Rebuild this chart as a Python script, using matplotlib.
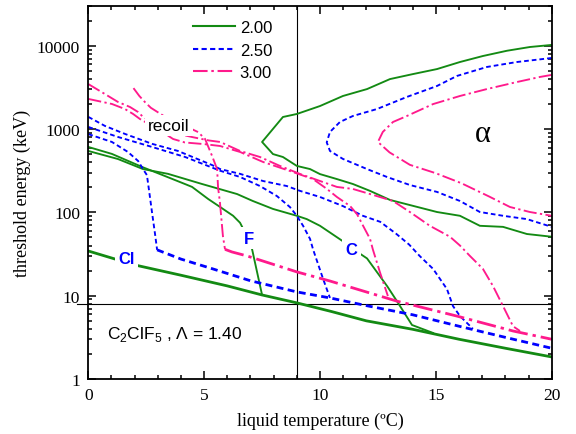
import matplotlib
matplotlib.use("Agg")
import matplotlib.pyplot as plt
from matplotlib.ticker import FixedLocator, NullFormatter, MultipleLocator
from matplotlib.lines import Line2D

# ---------------- data ----------------
legend_labels = ["2.00", "2.50", "3.00"]
x_ticks = [0, 5, 10, 15, 20]
x_tick_labels = ["0", "5", "10", "15", "20"]
y_ticks = [1, 10, 100, 1000, 10000]
y_tick_labels = ["1", "10", "100", "1000", "10000"]
ref_T = 9.0
ref_E = 8.0

# Lambda = 2.00 (green)
g_bottom_T = [0, 2, 4, 6, 7.5, 9, 10.5, 12, 14, 16, 18, 20]
g_bottom_E = [34.4, 23.4, 17.6, 13.1, 10.2, 8.2, 6.45, 4.99, 3.95, 3.0, 2.34, 1.84]
g_F_T = [0, 1.02, 2.32, 3.31, 4.17, 4.48, 5.17, 5.69, 6.25, 6.55, 6.64, 7.07, 7.5]
g_F_E = [610, 503, 351, 273, 219, 202, 145, 116, 91, 75, 67, 36, 10.2]
g_C_T = [0, 1.28, 2.36, 3.44, 4.91, 6.42, 7.1, 7.97, 9.0, 9.43, 10.0, 10.99, 11.72,
         12.03, 12.9, 13.32, 13.97, 14.88]
g_C_E = [546, 437, 331, 290, 219, 166, 137, 110, 91, 83, 69, 45, 32, 28, 13, 8.6, 4.45, 3.57]
g_alpha_T = [20, 19.06, 18.07, 17.03, 16.04, 15.05, 14.01, 13.02, 12.03, 10.99, 10.0, 9.0,
             8.4, 7.5, 7.97, 8.4, 9.0, 9.57, 10.0, 10.73, 11.42, 12.16, 13.02, 15.05, 16.04,
             16.9, 17.9, 18.93, 20]
g_alpha_E = [10230, 9660, 8710, 7530, 6380, 5250, 4570, 3980, 3020, 2495, 1890, 1517, 1396,
             700, 501, 462, 361, 331, 288, 251, 219, 181, 141, 101, 91, 69, 67, 55, 51]

# Lambda = 2.50 (blue)
b_bottom_T = [2.97, 4, 5.39, 7, 9, 10.43, 12, 14, 16, 18, 20]
b_bottom_E = [35.5, 27.5, 20.9, 15.1, 11.1, 9.4, 7.6, 5.9, 4.3, 3.16, 2.34]
b_Cl_T = [0, 1.02, 1.71, 2.15, 2.36, 2.53, 2.62, 2.75, 2.88, 2.97]
b_Cl_E = [870, 700, 531, 414, 331, 280, 185, 100, 55, 35.5]
b_F_T = [0, 1.28, 2.75, 4.18, 5.69, 6.55, 7.41, 8.14, 8.7, 9.0, 9.27, 9.57, 9.7, 10.13, 10.43]
b_F_E = [1060, 804, 610, 462, 316, 266, 207, 157, 116, 91, 69, 48, 36, 16, 9.4]
b_C_T = [0, 0.72, 1.58, 2.75, 3.87, 5.34, 5.69, 6.55, 7.54, 8.57, 9.14, 10.0, 10.99, 11.85,
         12.6, 13.3, 13.85, 14.3, 14.88, 15.48, 15.74, 16.04, 16.6]
b_C_E = [1400, 1090, 875, 665, 546, 370, 331, 290, 238, 207, 181, 153, 119, 91,
         77, 55, 41, 30, 21, 12, 7.5, 5.7, 4.0]
b_alpha_T = [20, 18.5, 17.2, 15.91, 15.05, 13.75, 12.46, 11.42, 10.86, 10.43, 10.29, 10.43,
             10.99, 12.03, 12.89, 13.88, 15.05, 16.04, 16.9, 17.9, 18.93, 20]
b_alpha_E = [7130, 6380, 5560, 4340, 3290, 2430, 1740, 1435, 1216, 923, 692, 546,
             438, 331, 266, 213, 176, 137, 101, 91, 83, 67]

# Lambda = 3.00 (pink)
p_bottom_T = [5.9, 6.2, 6.85, 9.0, 10.43, 13.32, 15.9, 18.33, 20]
p_bottom_E = [36, 33.5, 30, 19.3, 15, 8.6, 5.7, 3.77, 3.0]
p_Cl_T = [1.95, 2.2, 2.45, 2.7, 3.5, 4.3, 4.74, 5.04, 5.35, 5.56, 5.6, 5.68, 5.81, 5.9]
p_Cl_E = [3100, 2500, 2100, 1800, 1300, 1050, 920, 760, 470, 330, 200, 133, 52, 36]
p_F_T = [0, 1.02, 1.58, 1.93, 2.23, 3.0, 3.66, 4.17, 5.0, 5.69, 6.55, 7.54, 8.7, 9.7, 10.3,
         10.73, 11.3, 11.6, 11.86, 12.16, 12.28, 12.59, 12.93]
p_F_E = [2300, 2000, 1740, 1520, 1320, 1000, 760, 690, 660, 626, 531, 403, 314, 251, 191,
         153, 119, 95, 69, 48, 36, 19, 9.9]
p_C_T = [0, 0.72, 1.28, 1.8, 2.15, 2.36, 3.0, 3.7, 4.5, 5.2, 5.69, 6.55, 7.41, 8.27, 9.14,
         10.0, 10.73, 11.42, 12.16, 13.15, 13.88, 14.74, 15.61, 16.04, 16.47, 17.03, 17.47,
         17.9, 18.33, 18.63]
p_C_E = [3470, 2630, 2115, 1840, 1600, 1400, 1100, 900, 800, 730, 700, 546, 462, 361, 289,
         238, 202, 191, 166, 137, 101, 69, 51, 40, 30, 21, 13, 7.5, 4.3, 3.77]
p_alpha_T = [20, 19.49, 18.5, 17.2, 16.04, 14.88, 13.75, 13.15, 12.71, 12.5, 13.0, 13.88,
             15.0, 16.1, 17.3, 18.2, 19.06, 20]
p_alpha_E = [4470, 4220, 3670, 3020, 2495, 1995, 1435, 1216, 923, 700, 525, 372,
             295, 224, 155, 116, 101, 91]

# ---------------- styling ----------------
GREEN = "#138a13"
BLUE = "#0000ff"
PINK = "#ff1a8c"
SERIF = ["Liberation Serif", "DejaVu Serif"]
SANS = ["Liberation Sans", "DejaVu Sans"]

green_style = dict(color=GREEN, linestyle="-")
blue_style = dict(color=BLUE, linestyle=(0, (2.5, 1.6)))
pink_style = dict(color=PINK, linestyle=(0, (7, 1.8, 1.2, 1.8)))
LW = 1.35
LW_BOTTOM = 2.0

fig = plt.figure(figsize=(5.76, 4.35), dpi=100)
ax = fig.add_axes([88.3 / 576, 55 / 435, 463.4 / 576, 373 / 435])

# reference lines
ax.axvline(ref_T, color="black", lw=0.8, zorder=1)
ax.plot([-0.49, 20], [ref_E, ref_E], color="black", lw=0.8, zorder=1, clip_on=False)

# curves
for T, E, st, lw in [
    (g_bottom_T, g_bottom_E, green_style, LW_BOTTOM),
    (g_F_T, g_F_E, green_style, LW),
    (g_C_T, g_C_E, green_style, LW),
    (g_alpha_T, g_alpha_E, green_style, LW),
    (b_bottom_T, b_bottom_E, blue_style, LW_BOTTOM),
    (b_Cl_T, b_Cl_E, blue_style, LW),
    (b_F_T, b_F_E, blue_style, LW),
    (b_C_T, b_C_E, blue_style, LW),
    (b_alpha_T, b_alpha_E, blue_style, LW),
    (p_bottom_T, p_bottom_E, pink_style, LW_BOTTOM),
    (p_Cl_T, p_Cl_E, pink_style, LW),
    (p_F_T, p_F_E, pink_style, LW),
    (p_C_T, p_C_E, pink_style, LW),
    (p_alpha_T, p_alpha_E, pink_style, LW),
]:
    ax.plot(T, E, lw=lw, zorder=2, **st)

ax.set_yscale("log")
ax.set_xlim(0, 20)
ax.set_ylim(1, 30000)

# ticks
ax.xaxis.set_major_locator(FixedLocator(x_ticks))
ax.set_xticklabels(x_tick_labels)
ax.xaxis.set_minor_locator(MultipleLocator(1))
ax.yaxis.set_major_locator(FixedLocator(y_ticks))
ax.set_yticklabels(y_tick_labels)
minor_y = [m * 10 ** d for d in range(0, 5) for m in range(2, 10)]
ax.yaxis.set_minor_locator(FixedLocator(minor_y))
ax.yaxis.set_minor_formatter(NullFormatter())
ax.tick_params(which="both", direction="in", top=True, right=True, width=1.1)
ax.tick_params(which="major", length=5.5, pad=6)
ax.tick_params(which="minor", length=2.8)
for lab in ax.get_xticklabels() + ax.get_yticklabels():
    lab.set_fontfamily(SERIF)
    lab.set_fontsize(12.5)
for sp in ax.spines.values():
    sp.set_linewidth(1.3)

ax.set_xlabel("liquid temperature (ºC)", fontfamily=SERIF, fontsize=13, labelpad=6)
ax.set_ylabel("threshold energy (keV)", fontfamily=SERIF, fontsize=13, labelpad=4)

# legend
handles = [Line2D([], [], lw=1.5, **green_style),
           Line2D([], [], lw=1.5, **blue_style),
           Line2D([], [], lw=1.5, **pink_style)]
ax.legend(handles, legend_labels, loc="upper left", bbox_to_anchor=(0.226, 0.962),
          frameon=False, handlelength=2.5, handletextpad=0.3, labelspacing=0.45,
          borderpad=0, borderaxespad=0, prop=dict(family=SANS, size=12))

# annotations
white = dict(facecolor="white", edgecolor="none", pad=2.5)
ax.text(2.58, 975, "recoil", fontfamily=SANS, fontsize=12.5, ha="left", va="baseline",
        bbox=white, zorder=3)
ax.text(17.03, 875, "α", fontfamily=SERIF, fontsize=22, ha="center", va="center", zorder=3)
ax.text(1.295, 24.5, "Cl", fontfamily=SANS, fontsize=12, fontweight="bold", color=BLUE,
        ha="left", va="baseline", bbox=white, zorder=3)
ax.text(6.73, 43, "F", fontfamily=SANS, fontsize=12, fontweight="bold", color=BLUE,
        ha="left", va="baseline", bbox=white, zorder=3)
ax.text(11.11, 31.7, "C", fontfamily=SANS, fontsize=12, fontweight="bold", color=BLUE,
        ha="left", va="baseline", bbox=white, zorder=3)
ax.text(0.81, 3.1, r"C$_\mathregular{2}$ClF$_\mathregular{5}$ , Λ = 1.40",
        fontfamily=SANS, fontsize=12.5, ha="left", va="baseline", zorder=3)

fig.savefig("out.png", dpi=100)
